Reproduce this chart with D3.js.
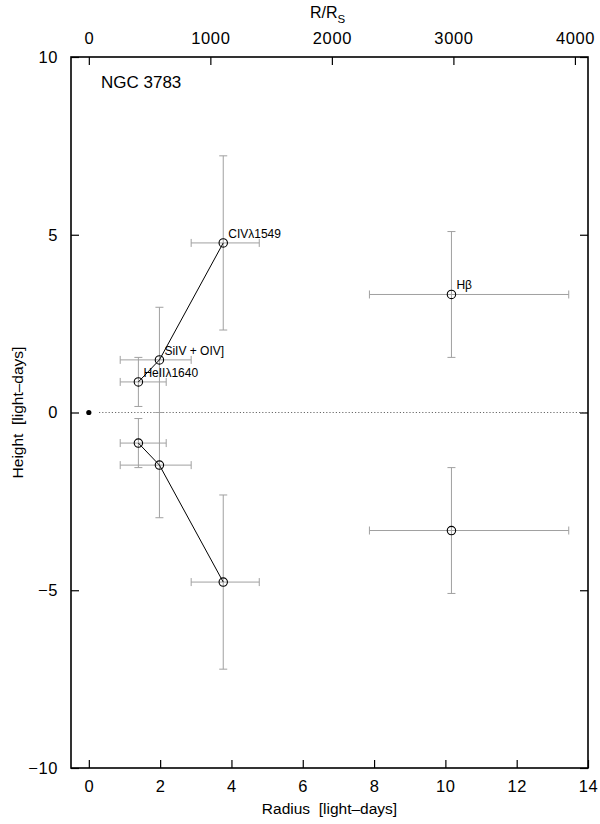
<!DOCTYPE html>
<html><head><meta charset="utf-8">
<script src="https://cdn.jsdelivr.net/npm/d3@7"></script>
<style>
body{margin:0;background:#fff;}
text{font-family:"Liberation Sans",Arial,Helvetica,sans-serif;white-space:pre;}
</style></head>
<body>
<svg id="c" width="600" height="824"></svg>
<script>
// ---- data ----
const lineNames   = ["HeIIλ1640", "SiIV + OIV]", "CIVλ1549", "Hβ"];
const radius      = [1.39, 1.98, 3.77, 10.17];
const radiusErrLo = [0.51, 1.10, 0.90, 2.30];
const radiusErrHi = [0.78, 0.89, 1.01, 3.29];
const heightVal   = [0.86, 1.48, 4.77, 3.32];
const heightErr   = [0.69, 1.48, 2.45, 1.77];
const connected   = [0, 1, 2];           // indices joined by a line
const xTicks      = [0, 2, 4, 6, 8, 10, 12, 14];
const yTicks      = [-10, -5, 0, 5, 10];
const rsTicks     = [0, 1000, 2000, 3000, 4000];
const rsPerLightDay = 293.4;
const title = "NGC 3783";

const svg = d3.select("#c");
const L = 71, R = 588, T = 57, B = 768;
const x = d3.scaleLinear().domain([-0.5, 14]).range([L, R]);
const y = d3.scaleLinear().domain([-10, 10]).range([B, T]);
const xRs = d3.scaleLinear().domain([-0.5 * rsPerLightDay, 14 * rsPerLightDay]).range([L, R]);

const fs = 16.5;
// axes
const gB = svg.append("g").attr("transform", `translate(0,${B})`)
  .call(d3.axisBottom(x).tickValues(xTicks).tickSizeInner(-8).tickSizeOuter(0).tickPadding(12).tickFormat(d3.format("d")));
const gT = svg.append("g").attr("transform", `translate(0,${T})`)
  .call(d3.axisTop(xRs).tickValues(rsTicks).tickSizeInner(-8).tickSizeOuter(0).tickPadding(13).tickFormat(d3.format("d")));
const gL = svg.append("g").attr("transform", `translate(${L},0)`)
  .call(d3.axisLeft(y).tickValues(yTicks).tickSizeInner(-8).tickSizeOuter(0).tickPadding(13).tickFormat(d => d < 0 ? "−" + Math.abs(d) : d));
const gR = svg.append("g").attr("transform", `translate(${R},0)`)
  .call(d3.axisRight(y).tickValues(yTicks).tickSizeInner(-8).tickSizeOuter(0).tickFormat(""));
[gB, gT, gL, gR].forEach(g => {
  g.select(".domain").remove();
  g.selectAll("line").attr("stroke", "#000").attr("stroke-width", 1.2);
  g.selectAll("text").attr("font-size", fs).attr("fill", "#000").attr("letter-spacing", 0.6)
   .style("font-family", '"Liberation Sans",Arial,sans-serif');
});
svg.append("rect").attr("x", L).attr("y", T).attr("width", R - L).attr("height", B - T)
  .attr("fill", "none").attr("stroke", "#000").attr("stroke-width", 1.6);

// axis titles
svg.append("text").attr("x", (L + R) / 2).attr("y", 814).attr("text-anchor", "middle")
  .attr("font-size", 15.5).text("Radius  [light–days]");
svg.append("text").attr("transform", `translate(23,${(T + B) / 2}) rotate(-90)`).attr("text-anchor", "middle")
  .attr("font-size", 15.5).text("Height  [light–days]");
const rt = svg.append("text").attr("x", (L + R) / 2 - 2).attr("y", 18).attr("text-anchor", "middle").attr("font-size", 16);
rt.append("tspan").text("R/R");
rt.append("tspan").attr("font-size", 11.5).attr("dy", 5).text("S");

svg.append("text").attr("x", 101).attr("y", 88).attr("font-size", 17).text(title);

// zero line
svg.append("line").attr("x1", 99).attr("x2", R).attr("y1", y(0)).attr("y2", y(0))
  .attr("stroke", "#444").attr("stroke-width", 0.8).attr("stroke-dasharray", "1.2,2");
svg.append("circle").attr("cx", x(0)).attr("cy", y(0)).attr("r", 2.6).attr("fill", "#000");

// points (upper and mirrored lower)
const pts = [];
[1, -1].forEach(s => lineNames.forEach((n, i) => pts.push({
  i, s, name: n, x: radius[i], xl: radius[i] - radiusErrLo[i], xh: radius[i] + radiusErrHi[i],
  y: s * heightVal[i], yl: s * heightVal[i] - heightErr[i], yh: s * heightVal[i] + heightErr[i]
})));

const eb = svg.append("g").attr("stroke", "#a0a0a0").attr("stroke-width", 1).attr("fill", "none");
const cap = 4;
pts.forEach(p => {
  eb.append("line").attr("x1", x(p.xl)).attr("x2", x(p.xh)).attr("y1", y(p.y)).attr("y2", y(p.y));
  eb.append("line").attr("x1", x(p.xl)).attr("x2", x(p.xl)).attr("y1", y(p.y) - cap).attr("y2", y(p.y) + cap);
  eb.append("line").attr("x1", x(p.xh)).attr("x2", x(p.xh)).attr("y1", y(p.y) - cap).attr("y2", y(p.y) + cap);
  eb.append("line").attr("x1", x(p.x)).attr("x2", x(p.x)).attr("y1", y(p.yl)).attr("y2", y(p.yh));
  eb.append("line").attr("x1", x(p.x) - cap).attr("x2", x(p.x) + cap).attr("y1", y(p.yl)).attr("y2", y(p.yl));
  eb.append("line").attr("x1", x(p.x) - cap).attr("x2", x(p.x) + cap).attr("y1", y(p.yh)).attr("y2", y(p.yh));
});

const line = d3.line().x(d => x(d.x)).y(d => y(d.y));
[1, -1].forEach(s => {
  const seq = connected.map(i => pts.find(p => p.i === i && p.s === s));
  svg.append("path").attr("d", line(seq)).attr("fill", "none").attr("stroke", "#000").attr("stroke-width", 1);
});

svg.append("g").selectAll("circle").data(pts).join("circle")
  .attr("cx", d => x(d.x)).attr("cy", d => y(d.y)).attr("r", 4.2)
  .attr("fill", "none").attr("stroke", "#000").attr("stroke-width", 1.1);

svg.append("g").selectAll("text").data(pts.filter(p => p.s === 1)).join("text")
  .attr("x", d => x(d.x) + 5).attr("y", d => y(d.y) - 5).attr("font-size", 12).text(d => d.name);
</script>
</body></html>
